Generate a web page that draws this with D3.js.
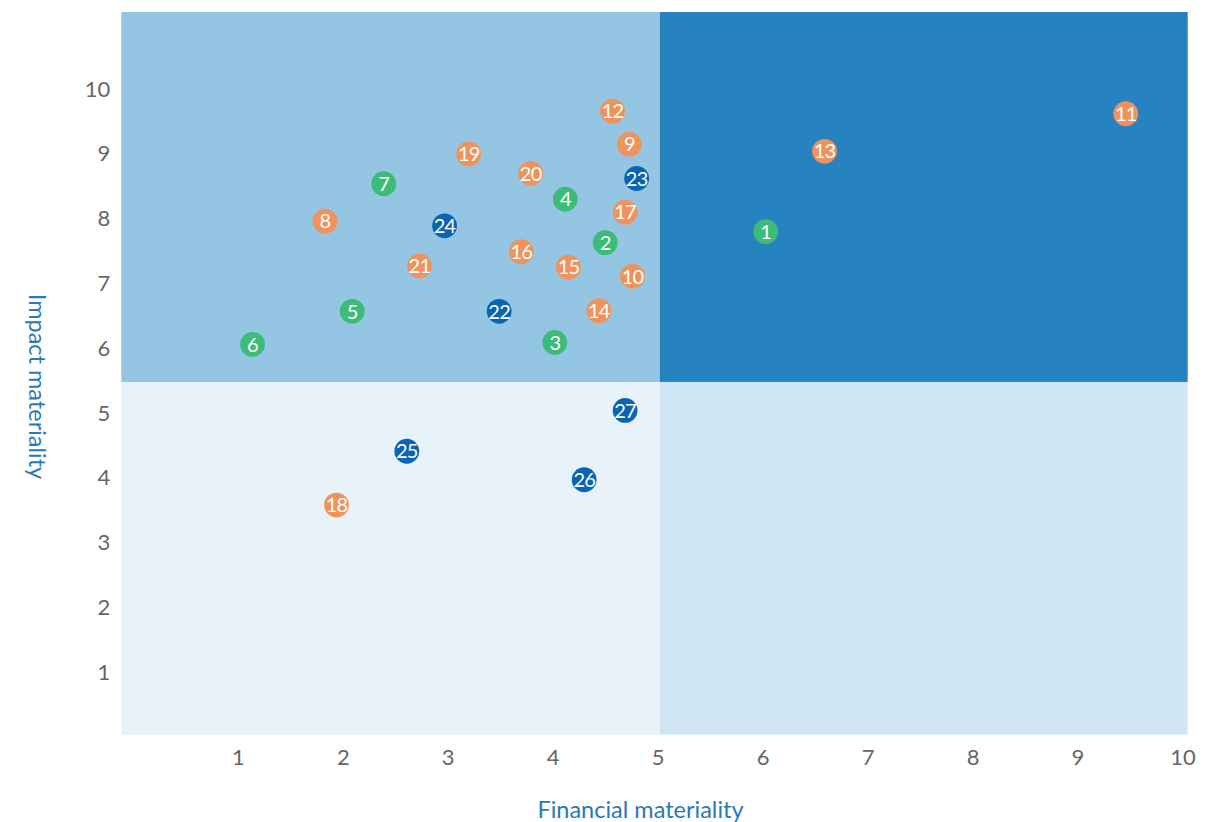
<!DOCTYPE html>
<html>
<head>
<meta charset="utf-8">
<script src="https://cdn.jsdelivr.net/npm/d3@7"></script>
<style>
  html, body { margin: 0; padding: 0; background: #fff; }
  svg { display: block; font-family: Lato, "Open Sans", sans-serif; }
</style>
</head>
<body>
<svg id="chart" width="1227" height="822"></svg>
<script>
// topic ids and their scores
var ids = [1, 2, 3, 4, 5, 6, 7, 8, 9, 10, 11, 12, 13, 14, 15, 16, 17, 18, 19, 20, 21, 22, 23, 24, 25, 26, 27];
var financial = [6.03, 4.50, 4.02, 4.12, 2.09, 1.14, 2.39, 1.83, 4.73, 4.76, 9.46, 4.57, 6.59, 4.44, 4.15, 3.70, 4.69, 1.94, 3.20, 3.79, 2.73, 3.49, 4.80, 2.97, 2.61, 4.30, 4.69];
var impact = [7.80, 7.63, 6.09, 8.30, 6.57, 6.06, 8.54, 7.96, 9.15, 7.11, 9.62, 9.66, 9.04, 6.58, 7.25, 7.49, 8.10, 3.58, 9.00, 8.70, 7.27, 6.57, 8.62, 7.89, 4.41, 3.97, 5.04];
// e = environment, s = social, g = governance
var groups = ["e", "e", "e", "e", "e", "e", "e", "s", "s", "s", "s", "s", "s", "s", "s", "s", "s", "s", "s", "s", "s", "g", "g", "g", "g", "g", "g"];

var xTicks = [1, 2, 3, 4, 5, 6, 7, 8, 9, 10];
var yTicks = [1, 2, 3, 4, 5, 6, 7, 8, 9, 10];
var xSplit = 5.02, ySplit = 5.48;

var groupColor = { e: "#3dbb78", s: "#f0925c", g: "#0a64b4" };

var svg = d3.select("#chart");
var plotLeft = 121.3, plotRight = 1187.7, plotTop = 12, plotBottom = 734.7;

var x = d3.scaleLinear().domain([-0.11, 10.05]).range([plotLeft, plotRight]);
var y = d3.scaleLinear().domain([0.035, 11.19]).range([plotBottom, plotTop]);

// quadrants
var quads = [
  { x0: x.domain()[0], x1: xSplit, y0: y.domain()[0], y1: ySplit, fill: "#e7f2f9" },
  { x0: xSplit, x1: x.domain()[1], y0: y.domain()[0], y1: ySplit, fill: "#d0e5f3" },
  { x0: x.domain()[0], x1: xSplit, y0: ySplit, y1: y.domain()[1], fill: "#94c6e3" },
  { x0: xSplit, x1: x.domain()[1], y0: ySplit, y1: y.domain()[1], fill: "#2782c0" }
];
svg.append("g").selectAll("rect")
  .data(quads)
  .enter()
  .append("rect")
  .attr("x", function(d) { return x(d.x0); })
  .attr("y", function(d) { return y(d.y1); })
  .attr("width", function(d) { return x(d.x1) - x(d.x0); })
  .attr("height", function(d) { return y(d.y0) - y(d.y1); })
  .attr("fill", function(d) { return d.fill; });

// axes, no lines, only labels
var xAxis = svg.append("g")
  .attr("transform", "translate(0," + plotBottom + ")")
  .call(d3.axisBottom(x).tickValues(xTicks).tickSize(0).tickPadding(15));
var yAxis = svg.append("g")
  .attr("transform", "translate(" + plotLeft + ",0)")
  .call(d3.axisLeft(y).tickValues(yTicks).tickSize(0).tickPadding(11));
[xAxis, yAxis].forEach(function(a) {
  a.select(".domain").remove();
  a.selectAll("text")
    .attr("fill", "#666")
    .style("font-size", "22px")
    .style("font-family", "Lato, sans-serif");
});

svg.append("text")
  .attr("x", 640.5)
  .attr("y", 818)
  .attr("text-anchor", "middle")
  .attr("fill", "#2a78b8")
  .style("font-size", "23.5px")
  .style("font-family", "Lato, sans-serif")
  .text("Financial materiality");

svg.append("text")
  .attr("transform", "translate(29,386.5) rotate(90)")
  .attr("text-anchor", "middle")
  .attr("fill", "#2a78b8")
  .style("font-size", "23.5px")
  .style("font-family", "Lato, sans-serif")
  .text("Impact materiality");

// points
var pts = svg.append("g").selectAll("g")
  .data(ids)
  .enter()
  .append("g")
  .attr("transform", function(d, i) {
    return "translate(" + x(financial[i]) + "," + y(impact[i]) + ")";
  });
pts.append("circle")
  .attr("r", 12.4)
  .attr("fill", function(d, i) { return groupColor[groups[i]]; });
pts.append("text")
  .attr("text-anchor", "middle")
  .attr("dy", "0.36em")
  .attr("fill", "#fff")
  .style("font-size", "20px")
  .style("font-family", "Lato, sans-serif")
  .style("letter-spacing", "-0.8px")
  .text(function(d) { return d; });
</script>
</body>
</html>
